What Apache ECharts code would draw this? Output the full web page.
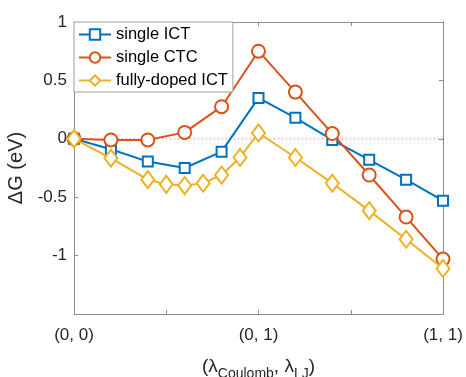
<!DOCTYPE html>
<html><head><meta charset="utf-8">
<script src="https://cdn.jsdelivr.net/npm/echarts@6/dist/echarts.min.js"></script>
<style>html,body{margin:0;padding:0;background:#fff}#c{width:466px;height:377px}</style>
</head><body><div id="c"></div>
<script>
const xSingle = [0,1,2,3,4,5,6,7,8,9,10];
const singleICT = [0,-0.09,-0.195,-0.25,-0.11,0.35,0.18,-0.01,-0.18,-0.35,-0.53];
const singleCTC = [0,-0.01,-0.01,0.055,0.275,0.75,0.40,0.045,-0.31,-0.67,-1.03];
const xDoped = [0,1,2,2.5,3,3.5,4,4.5,5,6,7,8,9,10];
const dopedICT = [0,-0.165,-0.35,-0.39,-0.40,-0.38,-0.31,-0.16,0.05,-0.16,-0.38,-0.615,-0.86,-1.11];
const xTickLabels = {0:'(0, 0)',5:'(0, 1)',10:'(1, 1)'};
const yTickLabels = {'1':'1','0.5':'0.5','0':'0','-0.5':'-0.5','-1':'-1'};
const names = ['single ICT','single CTC','fully-doped ICT'];
const colors = ['#0072BD','#D95319','#EDB120'];

const zip = (xs, ys) => xs.map((x,i)=>[x, ys[i]]);
const font = 'Liberation Sans, Arial, sans-serif';
const axCol = '#8c8c8c';
const chart = echarts.init(document.getElementById('c'));
const baseX = {type:'value',min:0,max:10,interval:2.5,
  axisLine:{onZero:false,lineStyle:{color:axCol,width:1}},
  axisTick:{inside:true,length:4,lineStyle:{color:axCol}},
  splitLine:{show:false}};
const baseY = {type:'value',min:-1.5,max:1,interval:0.5,
  axisLine:{show:true,onZero:false,lineStyle:{color:axCol,width:1}},
  axisTick:{show:true,inside:true,length:4,lineStyle:{color:axCol}},
  splitLine:{show:false}};
function mk(i, xs, ys, sym, size){
  return {name:names[i],type:'line',data:zip(xs,ys),symbol:sym,symbolSize:size,
    lineStyle:{width:2,color:colors[i]},
    itemStyle:{color:'#fff',borderColor:colors[i],borderWidth:2},z:2+i};
}
chart.setOption({
  animation:false,
  grid:{left:74,right:23,top:22,bottom:63,containLabel:false,outerBoundsMode:'none'},
  legend:{orient:'vertical',left:74,top:22,data:names,
    backgroundColor:'#fff',borderColor:'#a0a0a0',borderWidth:1,borderRadius:0,
    padding:[4,5,3,4],itemGap:6,itemWidth:32,itemHeight:13,
    textStyle:{fontFamily:font,fontSize:16.5,color:'#000'}},
  xAxis:[
    Object.assign({},baseX,{position:'bottom',
      axisLabel:{formatter:v=>xTickLabels[v]||'',fontFamily:font,fontSize:17,color:'#262626',margin:13,showMaxLabel:true,showMinLabel:true},
      name:'{l|(λ}{s|Coulomb}{l|, λ}{s|LJ}{l|)}',nameLocation:'middle',nameGap:39,
      nameTextStyle:{rich:{l:{fontFamily:font,fontSize:19,color:'#262626'},s:{fontFamily:font,fontSize:14,color:'#262626',padding:[14,0,0,0]}}}}),
    Object.assign({},baseX,{position:'top',axisLabel:{show:false}})
  ],
  yAxis:[
    Object.assign({},baseY,{position:'left',
      axisLabel:{formatter:v=>yTickLabels[String(v)]||'',fontFamily:font,fontSize:17,color:'#262626',margin:7},
      name:'ΔG (eV)',nameLocation:'middle',nameGap:35,nameRotate:90,
      nameTextStyle:{fontFamily:font,fontSize:20,color:'#262626'}}),
    Object.assign({},baseY,{position:'right',axisLabel:{show:false}})
  ],
  series:[
    {name:'zero',type:'line',data:[[0,0],[10,0]],symbol:'none',silent:true,
      lineStyle:{color:'#ff6060',width:1,type:[1,3]},z:1},
    mk(0, xSingle, singleICT, 'rect', 10),
    mk(1, xSingle, singleCTC, 'circle', 13),
    mk(2, xDoped, dopedICT, 'diamond', [13,17])
  ]
});
</script></body></html>
